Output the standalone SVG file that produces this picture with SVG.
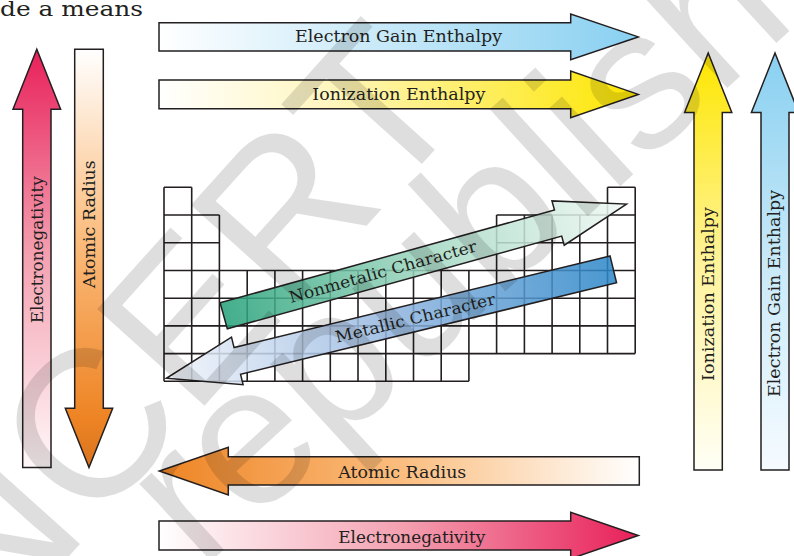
<svg xmlns="http://www.w3.org/2000/svg" width="794" height="556" viewBox="0 0 794 556">
<defs>
<style>
.arr{stroke:#231f20;stroke-width:1.5;stroke-linejoin:miter}
.lbl{font-family:"DejaVu Serif","Liberation Serif",serif;font-size:17px;fill:#231f20}
.dlbl{font-family:"DejaVu Serif","Liberation Serif",serif;font-size:16px;fill:#231f20}
.grid{fill:none;stroke:#231f20;stroke-width:1.6}
.wm{font-family:"Liberation Sans",Arial,sans-serif;fill:#000;fill-opacity:0.13}
</style>
<linearGradient id="gBlueH" x1="0" y1="0" x2="1" y2="0"><stop offset="0" stop-color="#ffffff"/><stop offset="1" stop-color="#89d0f1"/></linearGradient>
<linearGradient id="gYelH" x1="0" y1="0" x2="1" y2="0"><stop offset="0" stop-color="#ffffff"/><stop offset="0.35" stop-color="#fff6c0"/><stop offset="1" stop-color="#fde600"/></linearGradient>
<linearGradient id="gOrgH" x1="0" y1="0" x2="1" y2="0"><stop offset="0" stop-color="#ee8424"/><stop offset="0.5" stop-color="#fbbd7e"/><stop offset="1" stop-color="#ffffff"/></linearGradient>
<linearGradient id="gRedH" x1="0" y1="0" x2="1" y2="0"><stop offset="0" stop-color="#ffffff"/><stop offset="0.5" stop-color="#f4a2b2"/><stop offset="1" stop-color="#e8205a"/></linearGradient>
<linearGradient id="gRedV" x1="0" y1="0" x2="0" y2="1"><stop offset="0" stop-color="#e8205a"/><stop offset="0.5" stop-color="#f4a2b2"/><stop offset="1" stop-color="#fff8f9"/></linearGradient>
<linearGradient id="gOrgV" x1="0" y1="0" x2="0" y2="1"><stop offset="0" stop-color="#ffffff"/><stop offset="0.45" stop-color="#fbbd7e"/><stop offset="0.88" stop-color="#ee8424"/><stop offset="1" stop-color="#d9731f"/></linearGradient>
<linearGradient id="gYelV" x1="0" y1="0" x2="0" y2="1"><stop offset="0" stop-color="#fde600"/><stop offset="0.5" stop-color="#fff39a"/><stop offset="1" stop-color="#fffff6"/></linearGradient>
<linearGradient id="gBlueV" x1="0" y1="0" x2="0" y2="1"><stop offset="0" stop-color="#89d0f1"/><stop offset="0.5" stop-color="#c8e9f8"/><stop offset="1" stop-color="#f6fbff"/></linearGradient>
<linearGradient id="gGreen" gradientUnits="userSpaceOnUse" x1="0" y1="0" x2="418" y2="0"><stop offset="0" stop-color="#22a077"/><stop offset="0.5" stop-color="#9fd6c0"/><stop offset="1" stop-color="#f0f8f4"/></linearGradient>
<linearGradient id="gMetal" gradientUnits="userSpaceOnUse" x1="0" y1="0" x2="-460" y2="0"><stop offset="0" stop-color="#2a86c8"/><stop offset="0.5" stop-color="#92b5df"/><stop offset="1" stop-color="#f2f5fb"/></linearGradient>
</defs>
<rect width="794" height="556" fill="#ffffff"/>
<text x="0" y="16" style="font-family:'DejaVu Serif','Liberation Serif',serif;font-size:21px;fill:#231f20" textLength="143" lengthAdjust="spacingAndGlyphs">de a means</text>

<g id="table">
<path class="grid" d="M164,187.3H191.7M607.5,187.3H635.2M164,215H219.4M496.6,215H635.2M164,242.7H219.4M496.6,242.7H635.2M164,270.5H635.2M164,298.2H635.2M164,325.9H635.2M164,353.6H635.2M164,381.3H468.9M164,187.3V381.3M191.7,187.3V381.3M219.4,215V381.3M247.2,270.5V381.3M274.9,270.5V381.3M302.6,270.5V381.3M330.3,270.5V381.3M358,270.5V381.3M385.8,270.5V381.3M413.5,270.5V381.3M441.2,270.5V381.3M468.9,270.5V381.3M496.6,215V353.6M524.4,215V353.6M552.1,215V353.6M579.8,215V353.6M607.5,187.3V353.6M635.2,187.3V353.6"/>
</g>

<g id="arrow-egain-h">
<polygon class="arr" fill="url(#gBlueH)" points="159,22.7 570.7,22.7 570.7,14 638.3,36.9 570.7,59.8 570.7,51 159,51"/>
<text class="lbl" x="295" y="41.7" textLength="207" lengthAdjust="spacingAndGlyphs">Electron Gain Enthalpy</text>
</g>
<g id="arrow-ie-h">
<polygon class="arr" fill="url(#gYelH)" points="159,80 570.7,80 570.7,71 638.3,94.4 570.7,117.7 570.7,108.7 159,108.7"/>
<text class="lbl" x="312.3" y="100" textLength="173" lengthAdjust="spacingAndGlyphs">Ionization Enthalpy</text>
</g>
<g id="arrow-ar-h">
<polygon class="arr" fill="url(#gOrgH)" points="639.3,456.7 228.3,456.7 228.3,447.3 159.3,471 228.3,495 228.3,485 639.3,485"/>
<text class="lbl" x="338.3" y="477.7" textLength="128" lengthAdjust="spacingAndGlyphs">Atomic Radius</text>
</g>
<g id="arrow-en-h">
<polygon class="arr" fill="url(#gRedH)" points="159,521 570.7,521 570.7,512.3 638.3,535.5 570.7,558.7 570.7,550 159,550"/>
<text class="lbl" x="338.3" y="542.5" textLength="147" lengthAdjust="spacingAndGlyphs">Electronegativity</text>
</g>

<g id="arrow-en-v">
<polygon class="arr" fill="url(#gRedV)" points="22.7,467.5 22.7,109.3 13,109.3 36.8,49.3 60.6,109.3 51,109.3 51,467.5"/>
<text class="lbl" transform="translate(42.7,323.3) rotate(-90)" textLength="147" lengthAdjust="spacingAndGlyphs">Electronegativity</text>
</g>
<g id="arrow-ar-v">
<polygon class="arr" fill="url(#gOrgV)" points="74.7,49.3 103.3,49.3 103.3,408.3 112.7,408.3 89,467.5 65.3,408.3 74.7,408.3"/>
<text class="lbl" transform="translate(95,288.3) rotate(-90)" textLength="128" lengthAdjust="spacingAndGlyphs">Atomic Radius</text>
</g>
<g id="arrow-ie-v">
<polygon class="arr" fill="url(#gYelV)" points="694,470 694,112.5 684.6,112.5 708.2,53 731.8,112.5 722.3,112.5 722.3,470"/>
<text class="lbl" transform="translate(713.5,381) rotate(-90)" textLength="174" lengthAdjust="spacingAndGlyphs">Ionization Enthalpy</text>
</g>
<g id="arrow-egain-v">
<polygon class="arr" fill="url(#gBlueV)" points="761,470 761,112.5 751.4,112.5 775,53 798.6,112.5 789,112.5 789,470"/>
<text class="lbl" transform="translate(780,397) rotate(-90)" textLength="207" lengthAdjust="spacingAndGlyphs">Electron Gain Enthalpy</text>
</g>

<g id="arrow-nonmetal" transform="translate(223.7,315.8) rotate(-15.5)">
<polygon class="arr" fill="url(#gGreen)" fill-opacity="0.85" points="0,-13.5 347,-13.5 347,-23 418,0 347,23 347,13.5 0,13.5"/>
<text class="dlbl" x="165" y="5.5" text-anchor="middle" textLength="194" lengthAdjust="spacingAndGlyphs">Nonmetalic Character</text>
</g>
<g id="arrow-metal" transform="translate(613.3,269.3) rotate(-13.7)">
<polygon class="arr" fill="url(#gMetal)" fill-opacity="0.85" points="0,-13.75 -387,-13.75 -387,-24.5 -460,0 -387,24.5 -387,13.75 0,13.75"/>
<text class="dlbl" x="-204" y="6" text-anchor="middle" textLength="164" lengthAdjust="spacingAndGlyphs">Metallic Character</text>
</g>

<g id="watermark">
<text class="wm" font-size="210" transform="translate(-10,644) rotate(-48)">NCERT</text>
<text class="wm" font-size="200" transform="translate(200.7,570.8) rotate(-42.5)">republished</text>
</g>
</svg>
